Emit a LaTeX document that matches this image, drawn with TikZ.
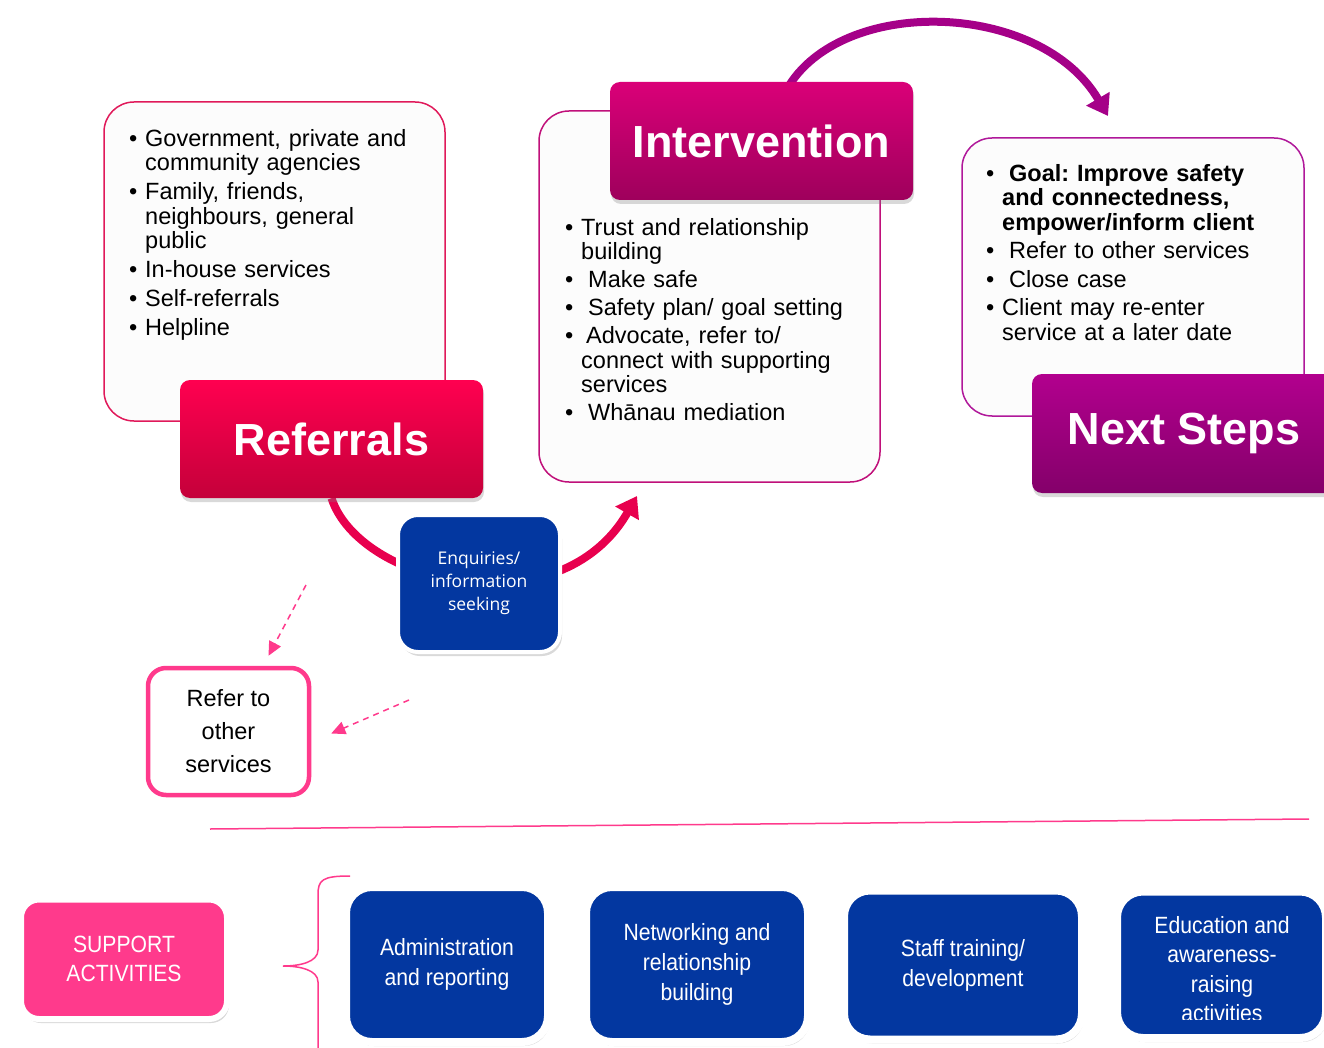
\documentclass[tikz,border=0pt]{standalone}
\usepackage{fontspec}
\setmainfont{Liberation Sans}
\newfontfamily\narrowfont[FakeStretch=0.9]{Liberation Sans}
\newfontfamily\enqfont{Open Sans}
\usetikzlibrary{arrows.meta,shadows,backgrounds}

\definecolor{refred}{HTML}{FF0050}
\definecolor{refdark}{HTML}{C4003A}
\definecolor{intmag}{HTML}{DA0078}
\definecolor{intdark}{HTML}{9E005C}
\definecolor{nexpur}{HTML}{B2008E}
\definecolor{nexdark}{HTML}{84006A}
\definecolor{refline}{HTML}{E0195A}
\definecolor{intline}{HTML}{C0107A}
\definecolor{nexline}{HTML}{B0189A}
\definecolor{boxblue}{HTML}{0337A0}
\definecolor{hotpink}{HTML}{FF3A8C}
\definecolor{arcred}{HTML}{E8004E}
\definecolor{arcpur}{HTML}{A50088}

\newcommand{\blt}[2][0pt]{\noindent\hangindent=16pt\hangafter=1\makebox[16pt][l]{\textbullet}\hspace{#1}#2\par}

\tikzset{
  infobox/.style={draw=#1, line width=1.5pt, fill=white!99!black, rounded corners=30pt, inner sep=0pt},
  header/.style 2 args={top color=#1, bottom color=#2, rounded corners=10pt, text=white,
    font=\bfseries\fontsize{45}{50}\selectfont, inner sep=0pt,
    drop shadow={opacity=0.3, shadow xshift=1pt, shadow yshift=-4pt}},
  listtext/.style={anchor=north west, inner sep=0pt, text width=300pt, align=left,
    font=\fontsize{23.5}{24.5}\selectfont\frenchspacing},
  bluebox/.style={fill=boxblue, draw=white, text=white, align=center, inner sep=0pt,
    drop shadow={opacity=0.3, shadow xshift=2pt, shadow yshift=-4pt}},
  actbox/.style={bluebox, line width=8pt, rounded corners=26pt, font=\narrowfont\fontsize{23.5}{30}\selectfont},
  bigarc/.style={line width=8pt, -{Triangle[length=20pt,width=26pt]}},
  dasharrow/.style={hotpink, line width=1.5pt, dash pattern=on 6pt off 5pt, -{Triangle[length=14pt,width=13pt]}}
}

\begin{document}
\begin{tikzpicture}[x=1pt,y=-1pt]
\useasboundingbox (0,0) rectangle (1324,1048);

% referrals
\node[infobox=refline, minimum width=341pt, minimum height=319pt] (refbox) at (274.5,261.5) {};
\node[listtext] (reflist) at (129,129) {\setlength{\parskip}{4.5pt}%
  \blt{Government, private and\newline community agencies}
  \blt{Family, friends,\newline neighbours, general\newline public}
  \blt{In-house services}
  \blt{Self-referrals}
  \blt{Helpline}};
\node[header={refred}{refdark}, minimum width=303pt, minimum height=118pt] (refhead) at (331.5,439) {Referrals};

% intervention
\node[infobox=intline, minimum width=341pt, minimum height=371pt] (intbox) at (709.5,296.5) {};
\node[listtext] (intlist) at (565,218) {\setlength{\parskip}{3.5pt}%
  \blt{Trust and relationship\newline building}
  \blt[7pt]{Make safe}
  \blt[7pt]{Safety plan/ goal setting}
  \blt[5pt]{Advocate, refer to/\newline connect with supporting\newline services}
  \blt[7pt]{Whānau mediation}};
\node[header={intmag}{intdark}, minimum width=303pt, minimum height=118pt] (inthead) at (761.5,141) {Intervention};

% next steps
\node[infobox=nexline, minimum width=342pt, minimum height=278pt] (nexbox) at (1133,277) {};
\node[listtext] (nexlist) at (986,164) {\setlength{\parskip}{4pt}%
  \blt[7pt]{{\bfseries Goal: Improve safety\newline and connectedness,\newline empower/inform client}}
  \blt[7pt]{Refer to other services}
  \blt[7pt]{Close case}
  \blt{Client may re-enter\newline service at a later date}};
\node[header={nexpur}{nexdark}, minimum width=304pt, minimum height=119pt] (nexhead) at (1184,433.5) {Next Steps};

% enquiries and referral out
\node[bluebox, line width=4pt, rounded corners=20pt, minimum width=162pt, minimum height=137pt,
  font=\enqfont\fontsize{17.5}{23}\selectfont] (enq) at (479,583.5) {Enquiries/\\information\\seeking};
\node[draw=hotpink, line width=4.5pt, fill=white, rounded corners=18pt, minimum width=161pt,
  minimum height=127pt, align=center, font=\fontsize{23.5}{33}\selectfont] (refer) at (228.5,731.5) {Refer to\\other\\services};

\coordinate (tipT) at (1108,116);
\coordinate (tipR) at (637,496);
\coordinate (dashA) at (306,585);
\coordinate (dashB) at (409,700);

\begin{scope}[on background layer]
\draw[bigarc, arcpur] ([xshift=25pt,yshift=-8pt]inthead.north) .. controls (840,-5) and (1040,0) .. (tipT);
\draw[bigarc, arcred] (refhead.south) .. controls (360,585) and (560,630) .. (tipR);
\end{scope}

\draw[dasharrow] (dashA) -- ([xshift=40pt,yshift=10pt]refer.north);
\draw[dasharrow] (dashB) -- ([xshift=20pt,yshift=-2pt]refer.east);

% support activities
\draw[hotpink, line width=1.5pt] (210,829) -- (1309,819);
\draw[hotpink, line width=1.5pt] (350,876) .. controls (322,876) and (318,880) .. (318,895) -- (318,950)
  .. controls (318,962) and (300,966) .. (283,966) .. controls (300,966) and (318,970) .. (318,982) -- (318,1060);

\node[bluebox, fill=hotpink, line width=6pt, rounded corners=18pt,
  minimum width=206pt, minimum height=119.5pt, font=\narrowfont\fontsize{23.5}{29}\selectfont] (support) at (124,959.25) {SUPPORT\\ACTIVITIES};
\node[actbox, minimum width=202pt, minimum height=155pt] (admin) at (447,964.5) {Administration\\and reporting};
\node[actbox, minimum width=222pt, minimum height=155pt] (network) at (697,964.5) {Networking and\\relationship\\building};
\node[actbox, minimum width=238pt, minimum height=149pt] (staff) at (963,965) {Staff training/\\development};
\node[actbox, minimum width=209pt, minimum height=146.5pt] (educ) at (1221.5,964.75) {};
\begin{scope}
\clip (1121,895) rectangle (1322,1019);
\node[text=white, align=center, font=\narrowfont\fontsize{23.5}{29.5}\selectfont] (eductext) at (1222,969) {Education and\\awareness-\\raising\\activities};
\end{scope}
\end{tikzpicture}
\end{document}
